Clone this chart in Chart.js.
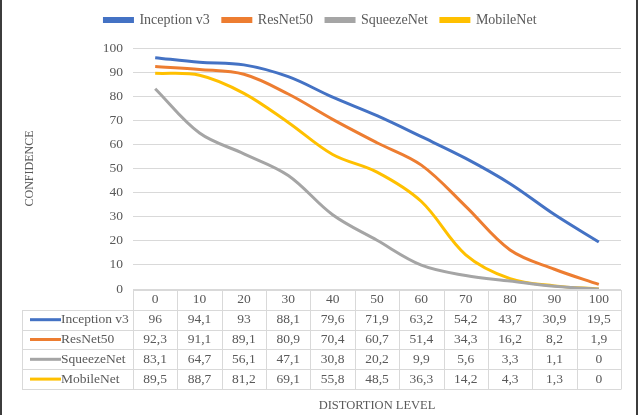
<!DOCTYPE html>
<html>
<head>
<meta charset="utf-8">
<script src="https://cdn.jsdelivr.net/npm/chart.js@4.4.1/dist/chart.umd.min.js"></script>
<style>
  html, body { margin: 0; padding: 0; background: #fff; }
  #wrap { position: relative; width: 641px; height: 415px; }
</style>
</head>
<body>
<div id="wrap"><canvas id="conf-chart"></canvas></div>
<script>
const distortion = [0, 10, 20, 30, 40, 50, 60, 70, 80, 90, 100];
const inception = [96, 94.1, 93, 88.1, 79.6, 71.9, 63.2, 54.2, 43.7, 30.9, 19.5];
const resnet = [92.3, 91.1, 89.1, 80.9, 70.4, 60.7, 51.4, 34.3, 16.2, 8.2, 1.9];
const squeeze = [83.1, 64.7, 56.1, 47.1, 30.8, 20.2, 9.9, 5.6, 3.3, 1.1, 0];
const mobile = [89.5, 88.7, 81.2, 69.1, 55.8, 48.5, 36.3, 14.2, 4.3, 1.3, 0];
const yTicks = [0, 10, 20, 30, 40, 50, 60, 70, 80, 90, 100];

const seriesNames = ["Inception v3", "ResNet50", "SqueezeNet", "MobileNet"];
const seriesColors = ["#4472C4", "#ED7D31", "#A5A5A5", "#FFC000"];
const seriesData = [inception, resnet, squeeze, mobile];

const textColor = "#595959";
const gridColor = "#d9d9d9";
const serif = "'Liberation Serif', 'Times New Roman', serif";

// decimal comma like the original table
const fmt = v => String(v).replace(".", ",");

// data table under the plot, columns follow the x scale
const dataTable = {
    id: "dataTable",
    afterDraw(chart) {
        const ctx = chart.ctx;
        const x = chart.scales.x;
        const area = chart.chartArea;
        const colW = (area.right - area.left) / distortion.length;
        const rowH = 19.8;
        const top = area.bottom + 1;
        const tableLeft = 22;

        ctx.save();
        ctx.strokeStyle = gridColor;
        ctx.lineWidth = 1;

        // header row (no label cell)
        ctx.beginPath();
        ctx.moveTo(area.left, top + 0.5);
        ctx.lineTo(area.right, top + 0.5);
        for (let r = 1; r <= seriesNames.length + 1; r++) {
            const yy = Math.round(top + r * rowH) + 0.5;
            ctx.moveTo(tableLeft, yy);
            ctx.lineTo(area.right, yy);
        }
        const bottom = Math.round(top + (seriesNames.length + 1) * rowH) + 0.5;
        ctx.moveTo(tableLeft + 0.5, Math.round(top + rowH));
        ctx.lineTo(tableLeft + 0.5, bottom);
        for (let c = 0; c <= distortion.length; c++) {
            const xx = Math.round(area.left + c * colW) + 0.5;
            ctx.moveTo(xx, top);
            ctx.lineTo(xx, bottom);
        }
        ctx.stroke();

        ctx.font = "13.5px " + serif;
        ctx.fillStyle = textColor;
        ctx.textAlign = "center";
        ctx.textBaseline = "middle";
        distortion.forEach((d, i) => {
            ctx.fillText(String(d), x.getPixelForValue(i), top + rowH / 2);
        });

        seriesData.forEach((vals, r) => {
            const cy = top + (r + 1.5) * rowH;
            ctx.fillStyle = seriesColors[r];
            ctx.fillRect(tableLeft + 8, cy - 1.5, 31, 3);
            ctx.fillStyle = textColor;
            ctx.textAlign = "left";
            ctx.fillText(seriesNames[r], tableLeft + 39, cy);
            ctx.textAlign = "center";
            vals.forEach((v, i) => {
                ctx.fillText(fmt(v), x.getPixelForValue(i), cy);
            });
        });

        // frame edges of the picture
        ctx.fillStyle = "#3c3c3c";
        ctx.fillRect(0, 0, 2, chart.height);
        ctx.fillRect(636, 0, 2, chart.height);
        ctx.restore();
    }
};

const canvas = document.getElementById("conf-chart");

new Chart(canvas.getContext("2d"), {
    type: "line",
    data: {
        labels: distortion,
        datasets: seriesNames.map((name, i) => ({
            label: name,
            data: seriesData[i],
            xAxisID: "x",
            yAxisID: "y",
            borderColor: seriesColors[i],
            backgroundColor: seriesColors[i],
            borderWidth: 3,
            pointRadius: 0,
            tension: 0.35,
            fill: false
        }))
    },
    options: {
        responsive: true,
        maintainAspectRatio: false,
        animation: false,
        layout: { padding: { left: 20, right: 20, top: 0, bottom: 0 } },
        plugins: {
            legend: {
                display: true,
                position: "top",
                labels: {
                    boxWidth: 28,
                    boxHeight: 3,
                    padding: 13,
                    color: textColor,
                    font: { family: serif, size: 14 }
                }
            },
            tooltip: { enabled: false }
        },
        scales: {
            x: {
                position: "bottom",
                offset: true,
                grid: { display: false },
                border: { display: false },
                ticks: { display: false },
                title: {
                    display: true,
                    text: "DISTORTION LEVEL",
                    color: textColor,
                    font: { family: serif, size: 12.5 },
                    padding: { top: 0, bottom: 2 }
                },
                afterFit: s => { s.height = 126; }
            },
            // empty strip between the legend and the plot
            xTop: {
                type: "category",
                position: "top",
                labels: distortion,
                grid: { display: false },
                border: { display: false },
                ticks: { display: false },
                afterFit: s => { s.height = 11; }
            },
            y: {
                min: 0,
                max: 100,
                afterBuildTicks: s => { s.ticks = yTicks.map(v => ({ value: v })); },
                grid: { color: gridColor, drawTicks: false },
                border: { display: false },
                ticks: {
                    padding: 10,
                    color: textColor,
                    font: { family: serif, size: 13.5 }
                },
                title: {
                    display: true,
                    text: "CONFIDENCE",
                    color: textColor,
                    font: { family: serif, size: 12 },
                    padding: { top: 3, bottom: 0 }
                },
                afterFit: s => { s.width = 113; }
            }
        }
    },
    plugins: [dataTable]
});
</script>
</body>
</html>
